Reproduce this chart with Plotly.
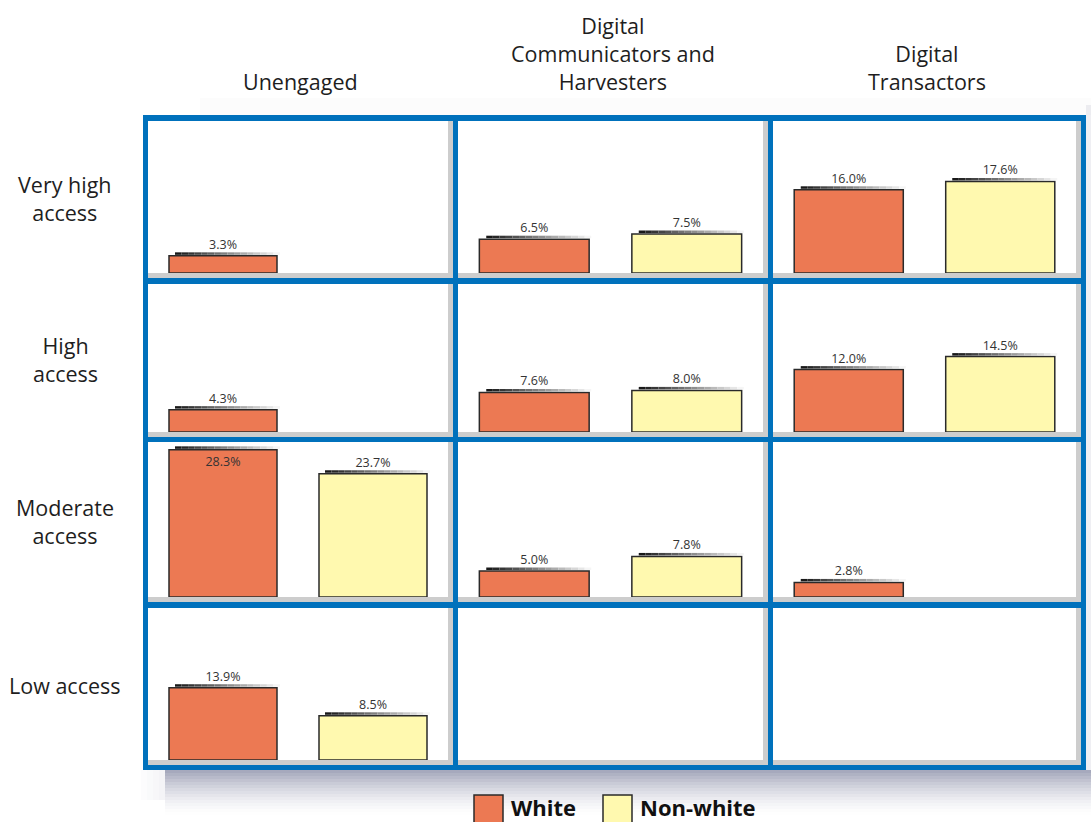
import plotly.graph_objects as go

# Digital engagement segments (columns) by level of access (rows), split by race
segments = ["Unengaged", "Digital<br>Communicators and<br>Harvesters", "Digital<br>Transactors"]
access_levels = ["Very high<br>access", "High<br>access", "Moderate<br>access", "Low access"]
groups = ["White", "Non-white"]

white = [
    [3.3, 6.5, 16.0],
    [4.3, 7.6, 12.0],
    [28.3, 5.0, 2.8],
    [13.9, None, None],
]
non_white = [
    [None, 7.5, 17.6],
    [None, 8.0, 14.5],
    [23.7, 7.8, None],
    [8.5, None, None],
]

group_colors = ["#EC7953", "#FFF9AF"]
BLUE = "#0071BC"
GUTTER_GRAY = "#CDCDCD"
TEXT = "#1e1e1e"
FONT = "Open Sans"

W, H = 1091, 822
# cell spans in pixels (each includes its grey gutter on the right / bottom)
col_edges = [(148, 453), (458, 768), (773, 1081)]
row_edges = [(121, 278), (284, 437), (442, 602), (608, 765)]
GUTTER = 5
PX_PER_PCT = 5.2
FRAME_TOP, FRAME_LEFT = 115, 143
FRAME_RIGHT, FRAME_BOTTOM = 1086, 770


def px(x):
    return x / W


def py(y):
    return 1 - y / H


fig = go.Figure()
layout_axes = {}
shapes = []

for r, (top, bottom) in enumerate(row_edges):
    base = bottom - GUTTER
    y_top = (base - top) / PX_PER_PCT
    for c, (left, right) in enumerate(col_edges):
        k = r * 3 + c + 1
        xname = "x" if k == 1 else f"x{k}"
        yname = "y" if k == 1 else f"y{k}"
        xkey = "xaxis" if k == 1 else f"xaxis{k}"
        ykey = "yaxis" if k == 1 else f"yaxis{k}"
        layout_axes[xkey] = dict(
            domain=[px(left), px(right - GUTTER)], anchor=yname,
            type="category", categoryorder="array", categoryarray=groups,
            range=[-0.5, 1.5], showgrid=False, zeroline=False,
            showticklabels=False, ticks="", showline=False, fixedrange=True,
        )
        layout_axes[ykey] = dict(
            domain=[py(base), py(top)], anchor=xname, range=[0, y_top],
            showgrid=False, zeroline=False, showticklabels=False,
            ticks="", showline=False, fixedrange=True,
        )

        vals = [white[r][c], non_white[r][c]]
        texts = [f"{v:.1f}%" if v is not None else "" for v in vals]
        positions = [
            "inside" if (v is not None and v * PX_PER_PCT > base - top - 22) else "outside"
            for v in vals
        ]
        fig.add_trace(go.Bar(
            x=groups, y=vals, text=texts, textposition=positions,
            insidetextanchor="end",
            textfont=dict(family=FONT, size=12.5, color="#333333"),
            marker=dict(color=group_colors, line=dict(color="#2a2a2a", width=1.5)),
            width=0.72, cliponaxis=False, showlegend=False,
            hoverinfo="x+y", xaxis=xname, yaxis=yname,
        ))

        # shaded top edge above each bar, dark on the left fading to light
        n_seg = 16
        start, stop = -48.0, 57.0
        step = (stop - start) / n_seg
        for j, v in enumerate(vals):
            if v is None:
                continue
            for s in range(n_seg):
                t = s / (n_seg - 1)
                g = int(25 + t * 220)
                shapes.append(dict(
                    type="rect", xref=xname, yref=yname,
                    xsizemode="pixel", xanchor=j,
                    x0=start + s * step, x1=start + (s + 1) * step,
                    ysizemode="pixel", yanchor=v, y0=1, y1=3.5,
                    fillcolor=f"rgb({g},{g},{g})", line=dict(width=0),
                    layer="above",
                ))

# soft drop shadow under and beside the frame
n_sh = 15
for s in range(n_sh):
    a = 0.62 * (1 - s / n_sh) ** 1.6
    shapes.append(dict(
        type="rect", xref="paper", yref="paper",
        x0=px(165), x1=px(W), y0=py(FRAME_BOTTOM + 3 * (s + 1)), y1=py(FRAME_BOTTOM + 3 * s),
        fillcolor=f"rgba(112,116,148,{a:.3f})", line=dict(width=0), layer="below",
    ))
for s in range(4):
    a = 0.08 * (1 - s / 4)
    shapes.append(dict(
        type="rect", xref="paper", yref="paper",
        x0=px(165 - 6 * (s + 1)), x1=px(165 - 6 * s), y0=py(800), y1=py(FRAME_BOTTOM),
        fillcolor=f"rgba(112,116,148,{a:.3f})", line=dict(width=0), layer="below",
    ))
shapes.append(dict(
    type="rect", xref="paper", yref="paper",
    x0=px(FRAME_RIGHT), x1=px(W), y0=py(FRAME_BOTTOM), y1=py(FRAME_TOP - 10),
    fillcolor="rgba(140,144,168,0.14)", line=dict(width=0), layer="below",
))
shapes.append(dict(
    type="rect", xref="paper", yref="paper",
    x0=px(200), x1=px(W), y0=py(FRAME_TOP), y1=py(98),
    fillcolor="rgba(0,0,0,0.012)", line=dict(width=0), layer="below",
))

# grey gutters along the bottom and right of each cell
for top, bottom in row_edges:
    for left, right in col_edges:
        shapes.append(dict(
            type="rect", xref="paper", yref="paper",
            x0=px(left), x1=px(right), y0=py(bottom), y1=py(bottom - GUTTER),
            fillcolor=GUTTER_GRAY, line=dict(width=0), layer="above",
        ))
        shapes.append(dict(
            type="rect", xref="paper", yref="paper",
            x0=px(right - GUTTER), x1=px(right), y0=py(bottom), y1=py(top),
            fillcolor=GUTTER_GRAY, line=dict(width=0), layer="above",
        ))

# blue frame and dividers
blue_rects = [(FRAME_LEFT, FRAME_RIGHT, FRAME_TOP, row_edges[0][0]),
              (FRAME_LEFT, col_edges[0][0], FRAME_TOP, FRAME_BOTTOM)]
for c, (left, right) in enumerate(col_edges):
    nxt = col_edges[c + 1][0] if c + 1 < len(col_edges) else FRAME_RIGHT
    blue_rects.append((right, nxt, FRAME_TOP, FRAME_BOTTOM))
for r, (top, bottom) in enumerate(row_edges):
    nxt = row_edges[r + 1][0] if r + 1 < len(row_edges) else FRAME_BOTTOM
    blue_rects.append((FRAME_LEFT, FRAME_RIGHT, bottom, nxt))
for x0, x1, y0, y1 in blue_rects:
    shapes.append(dict(
        type="rect", xref="paper", yref="paper",
        x0=px(x0), x1=px(x1), y0=py(y1), y1=py(y0),
        fillcolor=BLUE, line=dict(width=0), layer="above",
    ))

# legend swatches
legend_items = [(groups[0], group_colors[0], 474, 509), (groups[1], group_colors[1], 603, 638)]
annotations = []
for name, color, sx, tx in legend_items:
    shapes.append(dict(
        type="rect", xref="paper", yref="paper",
        x0=px(sx), x1=px(sx + 29), y0=py(826), y1=py(795),
        fillcolor=color, line=dict(color="#2a2a2a", width=1.5), layer="above",
    ))
    annotations.append(dict(
        text=f"<b>{name}</b>", x=px(tx), y=py(807), xref="paper", yref="paper",
        xanchor="left", yanchor="middle", showarrow=False,
        font=dict(family=FONT, size=22, color="#111111"),
    ))

# column headers
for c, (left, right) in enumerate(col_edges):
    annotations.append(dict(
        text=segments[c], x=px((left + right) / 2), y=py(98),
        xref="paper", yref="paper", xanchor="center", yanchor="bottom",
        align="center", showarrow=False,
        font=dict(family=FONT, size=21.5, color=TEXT),
    ))

# row labels
for r, (top, bottom) in enumerate(row_edges):
    annotations.append(dict(
        text=access_levels[r], x=px(65), y=py((top + bottom) / 2 - 1),
        xref="paper", yref="paper", xanchor="center", yanchor="middle",
        align="center", showarrow=False,
        font=dict(family=FONT, size=21.5, color=TEXT),
    ))

fig.update_layout(
    width=W, height=H, margin=dict(l=0, r=0, t=0, b=0), autosize=False,
    paper_bgcolor="white", plot_bgcolor="rgba(0,0,0,0)",
    shapes=shapes, annotations=annotations, showlegend=False,
    bargap=0.28, font=dict(family=FONT), **layout_axes,
)

fig.write_html("out.html")
